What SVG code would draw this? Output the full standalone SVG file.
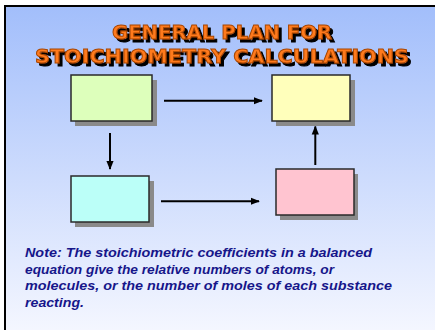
<svg xmlns="http://www.w3.org/2000/svg" width="435" height="330" viewBox="0 0 435 330">
<defs>
<linearGradient id="bg" x1="0" y1="0" x2="0" y2="1">
<stop offset="0" stop-color="#a2befb"/>
<stop offset="1" stop-color="#f8f9ff"/>
</linearGradient>
<filter id="tsh" x="-5%" y="-20%" width="115%" height="160%">
<feOffset in="SourceAlpha" dx="2.5" dy="2.5" result="o"/>
<feFlood flood-color="#000"/>
<feComposite in2="o" operator="in" result="s"/>
<feMerge><feMergeNode in="s"/><feMergeNode in="SourceGraphic"/></feMerge>
</filter>
<marker id="ah" viewBox="0 0 10 10" refX="9" refY="5" markerWidth="4.5" markerHeight="4.5" orient="auto" markerUnits="strokeWidth">
<path d="M0,1 L10,5 L0,9 z" fill="#000"/>
</marker>
</defs>
<style>
.shadow{fill:#8a8a8a}
.box{stroke:#2a2a2a;stroke-width:1.5}
.conn{stroke:#000;stroke-width:2;fill:none;marker-end:url(#ah)}
.title{font-family:"DejaVu Sans","Liberation Sans",sans-serif;font-weight:bold;font-size:20px;text-anchor:middle;fill:#ff7a1e;stroke:#a84600;stroke-width:1}
.note{font-family:"Liberation Sans",Arial,sans-serif;font-weight:bold;font-style:italic;font-size:13.5px;fill:#16168a}
</style>
<rect x="0" y="0" width="435" height="330" fill="#ffffff"/>
<rect x="5" y="6" width="440" height="340" fill="url(#bg)" stroke="#000" stroke-width="2"/>
<g id="title" filter="url(#tsh)">
<text class="title" x="222" y="38.5" textLength="220" lengthAdjust="spacingAndGlyphs">GENERAL PLAN FOR</text>
<text class="title" x="222" y="62.5" textLength="374" lengthAdjust="spacingAndGlyphs">STOICHIOMETRY CALCULATIONS</text>
</g>
<g id="node-green">
<rect class="shadow" x="75" y="80" width="82" height="46"/>
<rect class="box" x="71" y="75" width="81" height="46" fill="#ddffbb"/>
</g>
<g id="node-yellow">
<rect class="shadow" x="276" y="80" width="79" height="46"/>
<rect class="box" x="272" y="75" width="78" height="46" fill="#ffffbb"/>
</g>
<g id="node-cyan">
<rect class="shadow" x="75" y="181" width="79" height="46"/>
<rect class="box" x="71" y="176" width="78" height="46" fill="#bbfff8"/>
</g>
<g id="node-pink">
<rect class="shadow" x="280" y="174" width="78" height="46"/>
<rect class="box" x="276" y="169" width="78" height="46" fill="#ffc4d0"/>
</g>
<g id="connectors">
<line class="conn" x1="164" y1="100.7" x2="262" y2="100.7"/>
<line class="conn" x1="110" y1="133" x2="110" y2="169"/>
<line class="conn" x1="161" y1="201.3" x2="259" y2="201.3"/>
<line class="conn" x1="315.3" y1="165" x2="315.3" y2="126.5"/>
</g>
<g id="note">
<text class="note" x="25" y="257" textLength="347" lengthAdjust="spacingAndGlyphs">Note: The stoichiometric coefficients in a balanced</text>
<text class="note" x="25" y="273.5" textLength="309" lengthAdjust="spacingAndGlyphs">equation give the relative numbers of atoms, or</text>
<text class="note" x="25" y="290" textLength="367" lengthAdjust="spacingAndGlyphs">molecules, or the number of moles of each substance</text>
<text class="note" x="25" y="306.5" textLength="59" lengthAdjust="spacingAndGlyphs">reacting.</text>
</g>
</svg>
